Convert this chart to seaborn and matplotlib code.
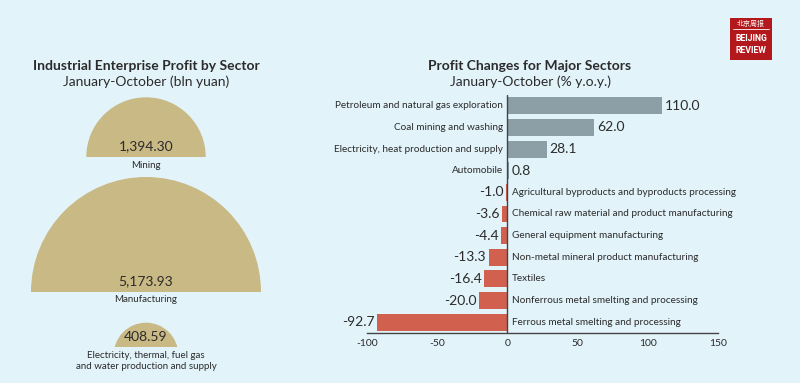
import numpy as np
import pandas as pd
import matplotlib.pyplot as plt
import seaborn as sns
from matplotlib.patches import Wedge, Rectangle

# left panel data
sectors = ["Mining", "Manufacturing",
           "Electricity, thermal, fuel gas\nand water production and supply"]
profits = [1394.30, 5173.93, 408.59]
profit_labels = ["1,394.30", "5,173.93", "408.59"]

# right panel data
categories = [
    "Petroleum and natural gas exploration",
    "Coal mining and washing",
    "Electricity, heat production and supply",
    "Automobile",
    "Agricultural byproducts and byproducts processing",
    "Chemical raw material and product manufacturing",
    "General equipment manufacturing",
    "Non-metal mineral product manufacturing",
    "Textiles",
    "Nonferrous metal smelting and processing",
    "Ferrous metal smelting and processing",
]
changes = [110.0, 62.0, 28.1, 0.8, -1.0, -3.6, -4.4, -13.3, -16.4, -20.0, -92.7]
xticks = [-100, -50, 0, 50, 100, 150]

BG = "#E2F3FA"
TAN = "#C9B984"
GRAY = "#8C9EA6"
RED = "#D2604F"
TXT = "#2b2b2b"

sns.set_theme(style="white")
plt.rcParams["font.family"] = ["Lato", "DejaVu Sans"]

fig = plt.figure(figsize=(8, 3.83), dpi=100)
fig.patch.set_facecolor(BG)

# ---- left: semicircles, axes in pixel units ----
axl = fig.add_axes([0, 0, 300 / 800, 1])
axl.set_xlim(0, 300)
axl.set_ylim(383, 0)
axl.axis("off")
axl.patch.set_alpha(0)

max_r = 115
cx = 146
bases = [157, 292, 355]
val_y = [146, 281, 337]
name_y = [166, 300, 361]
clip_base = [None, None, 347]
for i in range(3):
    r = max_r * np.sqrt(profits[i] / max(profits))
    w = Wedge((cx, bases[i]), r, 180, 360, facecolor=TAN, edgecolor="none")
    axl.add_patch(w)
    if clip_base[i] is not None:
        clip = Rectangle((0, 0), 300, clip_base[i], transform=axl.transData)
        w.set_clip_path(clip)
    axl.text(cx, val_y[i], profit_labels[i], ha="center", va="center",
             fontsize=10, color=TXT)
    axl.text(cx, name_y[i], sectors[i], ha="center", va="center",
             fontsize=7, color=TXT, linespacing=1.25)

axl.text(cx, 66, "Industrial Enterprise Profit by Sector", ha="center",
         va="center", fontsize=10, fontweight="bold", color=TXT)
axl.text(cx, 82, "January-October (bln yuan)", ha="center", va="center",
         fontsize=10, color=TXT)

# ---- right: horizontal bars ----
axr = fig.add_axes([367 / 800, 1 - 333 / 383, 351 / 800, 238 / 383])
axr.patch.set_alpha(0)
df = pd.DataFrame({"sector": categories, "change": changes})
colors = [GRAY if v >= 0 else RED for v in changes]
sns.barplot(data=df, x="change", y="sector", hue="sector", palette=colors,
            orient="h", width=0.78, legend=False, ax=axr, saturation=1,
            linewidth=0)
axr.set_xlim(-100, 150)
axr.set_ylim(len(categories) - 0.5, -0.5)
axr.set_xticks(xticks)
axr.set_xticklabels([str(t) for t in xticks], fontsize=7.5, color=TXT)
axr.tick_params(axis="x", length=0, pad=4)
axr.set_yticks([])
axr.set_xlabel("")
axr.set_ylabel("")
for s in ["top", "right", "left"]:
    axr.spines[s].set_visible(False)
axr.spines["bottom"].set_color("#444444")
axr.spines["bottom"].set_linewidth(1)
axr.axvline(0, color="#444444", lw=1)

for i, v in enumerate(changes):
    lab = f"{v:.1f}"
    if v >= 0:
        axr.text(-3, i, categories[i], ha="right", va="center", fontsize=7.2,
                 color=TXT)
        axr.text(v + 2, i, lab, ha="left", va="center", fontsize=10,
                 color=TXT)
    else:
        axr.text(3, i, categories[i], ha="left", va="center", fontsize=7.2,
                 color=TXT)
        axr.text(v - 2, i, lab, ha="right", va="center", fontsize=10,
                 color=TXT)

fig.text(530 / 800, 1 - 66 / 383, "Profit Changes for Major Sectors",
         ha="center", va="center", fontsize=10, fontweight="bold", color=TXT)
fig.text(530 / 800, 1 - 82 / 383, "January-October (% y.o.y.)",
         ha="center", va="center", fontsize=10, color=TXT)

# ---- logo ----
logo = fig.add_axes([730 / 800, 1 - 60 / 383, 42 / 800, 42 / 383])
logo.set_xlim(0, 1)
logo.set_ylim(0, 1)
logo.axis("off")
logo.add_patch(Rectangle((0, 0), 1, 1, facecolor="#B3191C", edgecolor="none"))
logo.text(0.5, 0.87, "北京周报", ha="center", va="center", fontsize=5,
          color="white", family=["Noto Sans CJK SC", "DejaVu Sans"])
logo.plot([0.08, 0.92], [0.74, 0.74], color="white", lw=0.6)
logo.text(0.5, 0.52, "BEIJING", ha="center", va="center", fontsize=6.3,
          fontweight="bold", color="white", family=["Roboto", "DejaVu Sans"])
logo.text(0.5, 0.22, "REVIEW", ha="center", va="center", fontsize=6.3,
          fontweight="bold", color="white", family=["Roboto", "DejaVu Sans"])

fig.savefig("out.png", dpi=100, facecolor=BG)
